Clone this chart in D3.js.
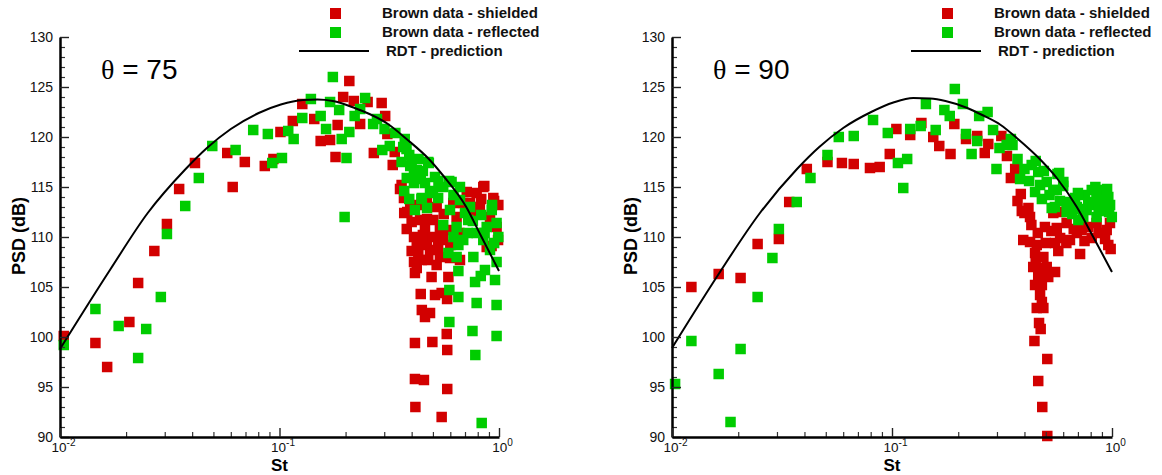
<!DOCTYPE html>
<html><head><meta charset="utf-8">
<script src="https://cdn.jsdelivr.net/npm/d3@7"></script>
<style>
body{margin:0;background:#fff}
svg{display:block}
text{font-family:"Liberation Sans",Arial,sans-serif}
</style>
</head><body>
<svg id="c" width="1162" height="475"></svg>
<script>
// ---------- DATA ----------
const yTickValues = [90, 95, 100, 105, 110, 115, 120, 125, 130];
const xTickValues = [0.01, 0.1, 1];
const xTickExponents = ["-2", "-1", "0"];
const legendLabels = ["Brown data - shielded", "Brown data - reflected", "RDT - prediction"];
const thetaLabels = ["75", "90"];

// theta = 75 : shielded (red)  [St, PSD]
const shielded75 = [[0.0104,100.1],[0.0145,99.4],[0.0164,97.0],[0.0207,101.5],[0.0227,105.4],[0.0269,108.6],[0.0307,111.3],[0.0349,114.8],[0.0412,117.4],[0.0578,118.4],[0.0612,115.0],[0.0695,117.5],[0.0857,117.1],[0.0938,117.8],[0.101,120.5],[0.115,121.6],[0.127,123.3],[0.144,121.8],[0.154,119.6],[0.170,119.7],[0.180,118.0],[0.184,121.2],[0.195,124.0],[0.208,125.6],[0.218,123.6],[0.233,121.3],[0.252,123.5],[0.269,118.4],[0.292,123.4],[0.303,122.1],[0.310,120.3],[0.328,117.2],[0.335,118.5],
[0.354,114.8],[0.369,113.9],[0.382,112.5],[0.400,111.5],[0.410,110.0],[0.422,109.0],[0.429,108.2],[0.414,106.4],[0.469,109.7],[0.485,108.7],[0.460,110.9],[0.502,111.7],[0.538,110.7],[0.557,109.7],[0.493,106.0],[0.511,104.2],[0.548,104.4],[0.588,106.0],[0.445,102.7],[0.460,102.0],[0.485,102.4],[0.578,100.3],[0.414,99.4],[0.497,99.5],[0.581,98.7],[0.414,95.8],[0.455,95.7],[0.581,94.8],[0.416,93.0],[0.548,92.0],[0.848,115.0],[0.942,113.9],[0.993,113.2],[0.713,114.5],[0.791,114.4],[0.687,113.4],[0.975,111.0],[0.879,109.0],[0.641,112.0],[0.598,110.7],[0.664,107.7],[0.598,107.9],[0.422,106.9],[0.394,113.0],[0.437,111.7],[0.528,109.0],[0.538,108.0],[0.476,107.7],[0.445,107.7],[0.520,113.0],[0.469,113.4],[0.818,113.0],[0.910,112.0],[0.990,109.7],[0.738,113.4],[0.619,113.4],[0.857,115.1],[0.925,109.1],[0.360,115.2],
[0.37,112.4],[0.38,110.8],[0.40,108.6],[0.43,113.2],[0.45,110.2],[0.47,111.8],[0.50,110.0],[0.44,109.2],[0.41,107.5],[0.52,107.2],[0.56,112.3],[0.60,109.2],[0.66,110.4],[0.75,112.2],[0.83,113.8],[0.95,113.6],[0.44,104.3],[0.58,103.8]];

// theta = 75 : reflected (green)
const reflected75 = [[0.0104,99.2],[0.0145,102.8],[0.0185,101.1],[0.0227,97.9],[0.0247,100.8],[0.0288,104.0],[0.0307,110.3],[0.0372,113.1],[0.0429,115.9],[0.0494,119.1],[0.0631,118.7],[0.0759,120.7],[0.0885,120.3],[0.0927,117.4],[0.1026,117.9],[0.1096,120.6],[0.116,119.8],[0.127,121.9],[0.139,123.8],[0.154,122.1],[0.163,120.8],[0.170,123.5],[0.175,126.0],[0.187,122.7],[0.192,119.8],[0.202,117.9],[0.198,112.0],[0.208,120.5],[0.220,122.1],[0.233,122.8],[0.2455,123.9],[0.267,121.3],[0.278,121.8],[0.301,120.8],[0.294,118.7],[0.318,119.1],[0.337,120.4],[0.372,119.8],[0.379,118.8],
[0.366,119.0],[0.400,117.2],[0.380,115.9],[0.422,116.7],[0.476,117.5],[0.460,115.4],[0.414,112.7],[0.445,113.9],[0.511,116.0],[0.528,113.9],[0.608,115.5],[0.557,111.2],[0.598,112.7],[0.641,111.0],[0.664,113.7],[0.738,113.0],[0.724,111.7],[0.791,110.4],[0.879,111.0],[0.927,112.7],[0.975,111.4],[0.993,110.0],[0.975,107.5],[0.959,105.7],[0.863,106.7],[0.764,108.0],[0.778,105.5],[0.653,106.6],[0.641,108.0],[0.594,104.7],[0.653,104.0],[0.791,103.4],[0.975,103.2],[0.594,101.5],[0.757,100.6],[0.975,100.1],[0.780,98.2],[0.834,91.4],[0.588,108.4],[0.687,109.7],[0.848,109.7],[0.910,108.7],[0.485,114.4],[0.557,115.0],[0.664,115.0],[0.394,117.1],[0.479,117.4],[0.410,115.4],[0.593,115.6],[0.443,113.8],[0.653,109.2],[0.826,106.1],
[0.36,117.5],[0.39,118.2],[0.41,116.2],[0.43,117.8],[0.44,115.8],[0.37,114.6],[0.39,113.8],[0.45,116.6],[0.50,114.6],[0.53,115.6],[0.47,112.9],[0.62,114.2],[0.70,112.4],[0.76,111.6],[0.83,112.2],[0.86,110.4],[0.95,109.4],[0.72,110.4],[0.93,113.2],[0.62,110.0]];

// theta = 75 : RDT prediction
const rdt75 = [[0.01,98.8],[0.0170,106.8],[0.0251,112.4],[0.0370,116.7],[0.0467,118.9],[0.0600,120.8],[0.0804,122.4],[0.1014,123.25],[0.128,123.7],[0.149,123.75],[0.175,123.6],[0.220,122.9],[0.257,122.3],[0.312,121.3],[0.379,119.8],[0.479,117.8],[0.5585,116.1],[0.705,113.1],[0.824,110.2],[1.0,106.6]];

// theta = 90 : shielded (red)
const shielded90 = [[0.01225,105.0],[0.0163,106.3],[0.0205,105.9],[0.0245,109.3],[0.0306,109.8],[0.0341,113.5],[0.0410,116.8],[0.0509,117.5],[0.0592,117.4],[0.0670,117.3],[0.0794,116.9],[0.0879,117.0],[0.0977,118.3],[0.1047,120.8],[0.121,120.2],[0.136,121.4],[0.154,120.0],[0.164,119.1],[0.1845,118.3],[0.192,121.3],[0.217,119.8],[0.244,120.1],[0.264,118.4],[0.274,119.3],[0.314,120.1],[0.333,118.1],[0.347,115.9],[0.363,116.8],
[0.385,114.3],[0.372,113.6],[0.389,112.6],[0.417,112.9],[0.424,112.0],[0.395,109.7],[0.424,109.5],[0.455,109.2],[0.447,108.4],[0.4875,108.0],[0.4385,107.0],[0.471,106.9],[0.505,107.0],[0.551,106.5],[0.462,106.2],[0.513,106.0],[0.447,105.2],[0.480,105.2],[0.471,104.2],[0.480,103.5],[0.455,102.9],[0.4875,102.9],[0.466,101.4],[0.474,100.8],[0.444,99.6],[0.508,97.8],[0.462,95.6],[0.482,93.0],[0.508,90.1],[0.4955,111.0],[0.561,110.9],[0.551,109.4],[0.581,109.9],[0.644,109.7],[0.622,111.4],[0.692,110.4],[0.728,110.7],[0.716,108.3],[0.809,109.9],[0.780,111.0],[0.851,111.4],[0.946,110.7],[0.979,111.4],[0.962,109.2],[0.986,108.8],[0.581,112.5],[0.541,112.4],
[0.40,112.4],[0.43,111.2],[0.46,110.4],[0.50,109.4],[0.53,110.6],[0.57,108.6],[0.62,109.4],[0.67,110.8],[0.75,109.6],[0.87,110.4],[0.93,109.8],[0.45,107.6],[0.49,106.6]];

// theta = 90 : reflected (green)
const reflected90 = [[0.01033,95.3],[0.01225,99.6],[0.0163,96.3],[0.01845,91.5],[0.0205,98.8],[0.0245,104.0],[0.0286,107.9],[0.0306,110.8],[0.0369,113.5],[0.0426,115.9],[0.0509,118.2],[0.0573,120.0],[0.0670,120.1],[0.0820,121.7],[0.0957,120.4],[0.1064,117.4],[0.1125,114.9],[0.1172,117.8],[0.121,120.8],[0.135,121.1],[0.1426,123.3],[0.158,120.7],[0.173,122.7],[0.183,122.1],[0.193,124.8],[0.210,123.3],[0.217,120.3],[0.230,118.3],[0.249,122.1],[0.272,122.5],[0.244,119.6],[0.288,120.7],[0.2985,116.8],[0.308,118.9],[0.347,119.8],[0.353,119.2],
[0.332,119.2],[0.372,117.8],[0.382,115.8],[0.4315,117.2],[0.462,116.5],[0.447,114.5],[0.480,113.8],[0.505,115.5],[0.532,112.9],[0.561,114.7],[0.575,116.4],[0.601,115.5],[0.622,113.5],[0.679,113.9],[0.622,112.5],[0.703,111.7],[0.767,112.7],[0.753,114.2],[0.809,114.7],[0.897,114.7],[0.962,114.0],[0.881,113.4],[0.929,112.7],[0.998,112.0],[0.851,112.0],[0.692,113.0],[0.541,114.7],[0.471,115.2],[0.565,116.3],[0.600,115.1],[0.72,112.8],[0.85,114.2],[0.93,113.9],[0.97,112.5],[0.78,113.5],[0.66,112.3],
[0.40,116.8],[0.42,115.6],[0.45,117.6],[0.49,116.6],[0.52,114.2],[0.55,113.0],[0.58,113.6],[0.64,112.9],[0.70,114.4],[0.74,112.0],[0.82,113.2],[0.87,112.6],[0.90,113.8],[0.95,114.8],[0.98,113.2],[0.84,115.0]];

// theta = 90 : RDT prediction
const rdt90 = [[0.01,98.9],[0.0163,106.3],[0.0251,112.4],[0.0370,116.8],[0.0467,119.0],[0.0600,120.9],[0.0804,122.5],[0.1014,123.45],[0.125,123.9],[0.149,123.85],[0.175,123.6],[0.220,122.9],[0.257,122.2],[0.312,121.2],[0.369,119.9],[0.479,117.6],[0.561,115.9],[0.692,113.0],[0.822,110.0],[1.0,106.5]];

// ---------- DRAW ----------
const RED = "#d20000", GREEN = "#00cc00";
const svg = d3.select("#c");
const FONT = '"Liberation Sans", Arial, sans-serif';

const panels = [
  {left: 60, right: 499, theta: thetaLabels[0], red: shielded75, green: reflected75, curve: rdt75},
  {left: 672, right: 1112, theta: thetaLabels[1], red: shielded90, green: reflected90, curve: rdt90}
];

panels.forEach(p => {
  const x = d3.scaleLog().domain([0.01, 1]).range([p.left, p.right]);
  const y = d3.scaleLinear().domain([90, 130]).range([437, 37]);
  const g = svg.append("g");
  const s = 10.5;

  // scatter
  g.append("g").selectAll("rect").data(p.red).join("rect")
    .attr("x", d => x(d[0]) - s/2).attr("y", d => y(d[1]) - s/2)
    .attr("width", s).attr("height", s).attr("fill", RED);
  g.append("g").selectAll("rect").data(p.green).join("rect")
    .attr("x", d => x(d[0]) - s/2).attr("y", d => y(d[1]) - s/2)
    .attr("width", s).attr("height", s).attr("fill", GREEN);

  // prediction curve
  g.append("path").datum(p.curve)
    .attr("d", d3.line().x(d => x(d[0])).y(d => y(d[1])).curve(d3.curveMonotoneX))
    .attr("fill", "none").attr("stroke", "#000").attr("stroke-width", 2);

  // y axis minor ticks
  const yMinor = d3.range(90, 131).filter(v => v % 5 !== 0);
  g.append("g").attr("transform", `translate(${p.left},0)`)
    .call(d3.axisLeft(y).tickValues(yMinor).tickSize(-5).tickFormat(""))
    .call(a => a.select(".domain").remove())
    .call(a => a.selectAll("line").attr("stroke", "#333").attr("stroke-width", 1.2));
  // y axis major
  g.append("g").attr("transform", `translate(${p.left},0)`)
    .call(d3.axisLeft(y).tickValues(yTickValues).tickSize(-9).tickSizeOuter(0).tickPadding(7))
    .attr("font-size", 14).attr("font-family", FONT)
    .call(a => a.select(".domain").attr("stroke", "#000").attr("stroke-width", 2.5))
    .call(a => a.selectAll(".tick line").attr("stroke", "#222").attr("stroke-width", 1.4))
    .call(a => a.selectAll(".tick text").attr("fill", "#111"));

  // x axis minor ticks
  const xMinor = [];
  [0.01, 0.1].forEach(b => { for (let k = 2; k <= 9; k++) xMinor.push(+(b * k).toFixed(3)); });
  g.append("g").attr("transform", `translate(0,437)`)
    .call(d3.axisBottom(x).tickValues(xMinor).tickSize(-5).tickFormat(""))
    .call(a => a.select(".domain").remove())
    .call(a => a.selectAll("line").attr("stroke", "#333").attr("stroke-width", 1.2));
  // x axis major
  const xa = g.append("g").attr("transform", `translate(0,437)`)
    .call(d3.axisBottom(x).tickValues(xTickValues).tickSize(-9).tickSizeOuter(0).tickPadding(5).tickFormat(() => ""))
    .attr("font-size", 13.5).attr("font-family", FONT);
  xa.select(".domain").attr("stroke", "#000").attr("stroke-width", 2.5);
  xa.selectAll(".tick line").attr("stroke", "#222").attr("stroke-width", 1.4);
  xa.selectAll(".tick text").each(function(d, i) {
    const t = d3.select(this).attr("fill", "#111").attr("text-anchor", "middle").attr("dx", 3);
    t.append("tspan").text("10");
    t.append("tspan").attr("font-size", 10).attr("dy", -6).text(xTickExponents[i]);
  });

  // axis titles
  g.append("text").attr("x", (p.left + p.right) / 2).attr("y", 471)
    .attr("text-anchor", "middle").attr("font-weight", "bold").attr("font-size", 17).text("St");
  g.append("text").attr("transform", `translate(${p.left - 35},236) rotate(-90)`)
    .attr("text-anchor", "middle").attr("font-weight", "bold").attr("font-size", 18).text("PSD (dB)");

  // theta label
  const th = g.append("text").attr("x", p.left + 41).attr("y", 79).attr("font-size", 28).attr("fill", "#000");
  th.append("tspan").attr("font-family", '"Liberation Serif", "Times New Roman", serif').text("θ");
  th.append("tspan").text(" = " + p.theta);

  // legend
  const lx = p.left;
  g.append("rect").attr("x", lx + 270).attr("y", 8).attr("width", 11).attr("height", 11).attr("fill", RED);
  g.append("rect").attr("x", lx + 270).attr("y", 27).attr("width", 11).attr("height", 11).attr("fill", GREEN);
  g.append("line").attr("x1", lx + 239).attr("x2", lx + 309).attr("y1", 51).attr("y2", 51)
    .attr("stroke", "#000").attr("stroke-width", 2);
  const lg = g.append("g").attr("font-size", 15).attr("font-weight", "bold").attr("fill", "#111");
  lg.append("text").attr("x", lx + 322).attr("y", 18).text(legendLabels[0]);
  lg.append("text").attr("x", lx + 322).attr("y", 37).text(legendLabels[1]);
  lg.append("text").attr("x", lx + 326).attr("y", 56).text(legendLabels[2]);
});
</script>
</body></html>
